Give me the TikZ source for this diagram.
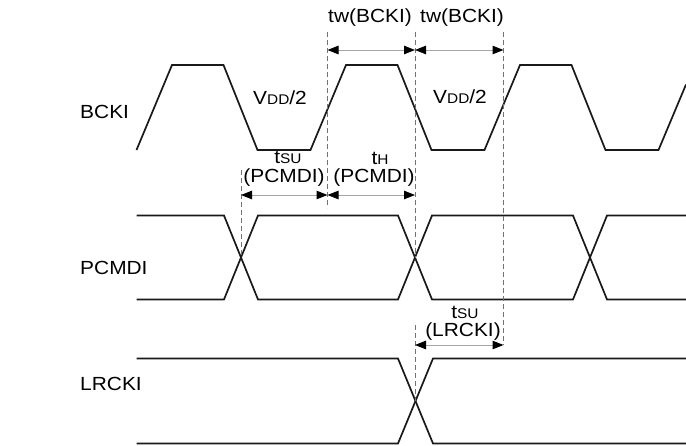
\documentclass[tikz,border=0pt]{standalone}
\usepackage{fontspec}
\setmainfont{Liberation Sans}
\usetikzlibrary{arrows.meta}
\newcommand{\lowcaps}[1]{{\fontsize{14}{14}\selectfont #1}}

\begin{document}
\begin{tikzpicture}[x=1pt,y=-1pt,
  wave/.style={line width=1.7pt, black!90},
  guideline/.style={gray!90!black, line width=0.7pt, dash pattern=on 5pt off 3pt},
  dimtip/.tip={Triangle[length=11pt,width=8.5pt,black]},
  dimarrow/.style={gray!70, line width=1pt, dimtip-dimtip},
  lbl/.style={font=\fontsize{19}{19}\selectfont, xscale=1.1, inner sep=0pt}]
\useasboundingbox (0,0) rectangle (686,445);
% Signal names
\node[lbl, anchor=west] (bckiname) at (80,112) {BCKI};
\node[lbl, anchor=west] (pcmdiname) at (80,268) {PCMDI};
\node[lbl, anchor=west] (lrckiname) at (80,384) {LRCKI};
% BCKI
\draw[wave] (136.5,150) -- (172,65) -- (223.5,65) -- (257.5,150) -- (310.5,150)
  -- (346,65) -- (397.5,65) -- (431.5,150) -- (484.5,150) -- (520,65)
  -- (571.5,65) -- (605.5,150) -- (658.5,150) -- (686,84.5);
\node[lbl] (vddA) at (280,98) {V\lowcaps{DD}/2};
\node[lbl] (vddB) at (460,97) {V\lowcaps{DD}/2};
% PCMDI
\draw[wave] (136.5,215.5) -- (224,215.5) -- (258,299.5) -- (398,299.5) -- (432,215.5)
  -- (573,215.5) -- (607,299.5) -- (686,299.5);
\draw[wave] (136.5,299.5) -- (224,299.5) -- (258,215.5) -- (398,215.5) -- (432,299.5)
  -- (573,299.5) -- (607,215.5) -- (686,215.5);
% LRCKI
\draw[wave] (136.5,358.5) -- (398,358.5) -- (433,443.5) -- (686,443.5);
\draw[wave] (136.5,443.5) -- (398,443.5) -- (433,358.5) -- (686,358.5);
% Dashed reference lines
\draw[guideline] (327.5,32) -- (327.5,208);
\draw[guideline] (415,32) -- (415,258);
\draw[guideline] (503.5,32) -- (503.5,345);
\draw[guideline] (241,170) -- (241,258);
\draw[guideline] (415,325) -- (415,401);
% Timing arrows
\coordinate (twA) at (327.5,50);
\coordinate (twB) at (415,50);
\coordinate (twC) at (503.5,50);
\coordinate (suA) at (241,195);
\coordinate (suB) at (327.5,195);
\coordinate (suC) at (415,195);
\coordinate (lrA) at (415,345);
\coordinate (lrB) at (503.5,345);
\draw[dimarrow] (twA) -- (twB);
\draw[dimarrow] (twB) -- (twC);
\draw[dimarrow] (suA) -- (suB);
\draw[dimarrow] (suB) -- (suC);
\draw[dimarrow] (lrA) -- (lrB);
% Timing labels
\node[lbl] (twlblA) at (370,18) {tw(BCKI)};
\node[lbl] (twlblB) at (462,18) {tw(BCKI)};
\node[lbl] (tsulblA) at (288,157) {t\lowcaps{SU}};
\node[lbl] (pcmlblA) at (284,178) {(PCMDI)};
\node[lbl] (thlbl) at (380,158) {t\lowcaps{H}};
\node[lbl] (pcmlblB) at (374,178) {(PCMDI)};
\node[lbl] (tsulblB) at (465,312) {t\lowcaps{SU}};
\node[lbl] (lrlbl) at (463,332) {(LRCKI)};
\end{tikzpicture}
\end{document}
